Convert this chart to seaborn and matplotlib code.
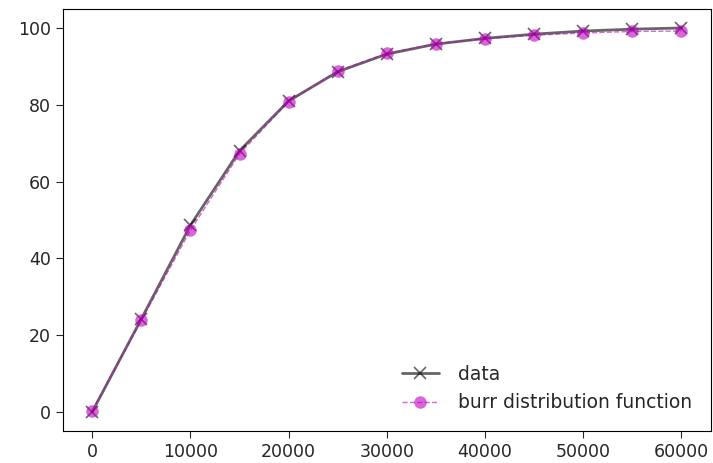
import numpy as np
import pandas as pd
import seaborn as sns
import matplotlib
matplotlib.use("Agg")
import matplotlib.pyplot as plt

x_vals = [0, 5000, 10000, 15000, 20000, 25000, 30000, 35000, 40000, 45000, 50000, 55000, 60000]
data_y = [0.0, 24.2, 48.6, 68.0, 81.0, 88.6, 93.2, 95.8, 97.3, 98.4, 99.2, 99.7, 100.0]
burr_y = [0.3, 23.8, 47.3, 67.2, 80.8, 88.8, 93.4, 95.9, 97.2, 98.1, 98.7, 99.1, 99.2]

sns.set_style("ticks")
plt.rcParams['font.family'] = ['DejaVu Sans']

fig, ax = plt.subplots(figsize=(7.13, 4.63), dpi=100)
df = pd.DataFrame({"x": x_vals, "data": data_y, "burr": burr_y})

sns.lineplot(data=df, x="x", y="data", ax=ax, color="black", alpha=0.6, linewidth=2,
             marker="x", markersize=8, markeredgecolor="black", markeredgewidth=1.2,
             label="data")
sns.lineplot(data=df, x="x", y="burr", ax=ax, color="m", alpha=0.6, linewidth=1,
             linestyle="--", marker="o", markersize=9, markeredgewidth=0,
             label="burr distribution function")

ax.set_xlabel("")
ax.set_ylabel("")
ax.set_xticks(range(0, 60001, 10000))
ax.set_yticks(range(0, 101, 20))
ax.tick_params(labelsize=12.5, length=5)
for s in ax.spines.values():
    s.set_color("black")
    s.set_linewidth(0.8)
ax.legend(loc="lower right", frameon=False, fontsize=13.5, borderaxespad=0.6,
          handletextpad=1.0)
fig.subplots_adjust(left=0.088, right=0.997, top=0.981, bottom=0.069)
fig.savefig("out.png", dpi=100)
